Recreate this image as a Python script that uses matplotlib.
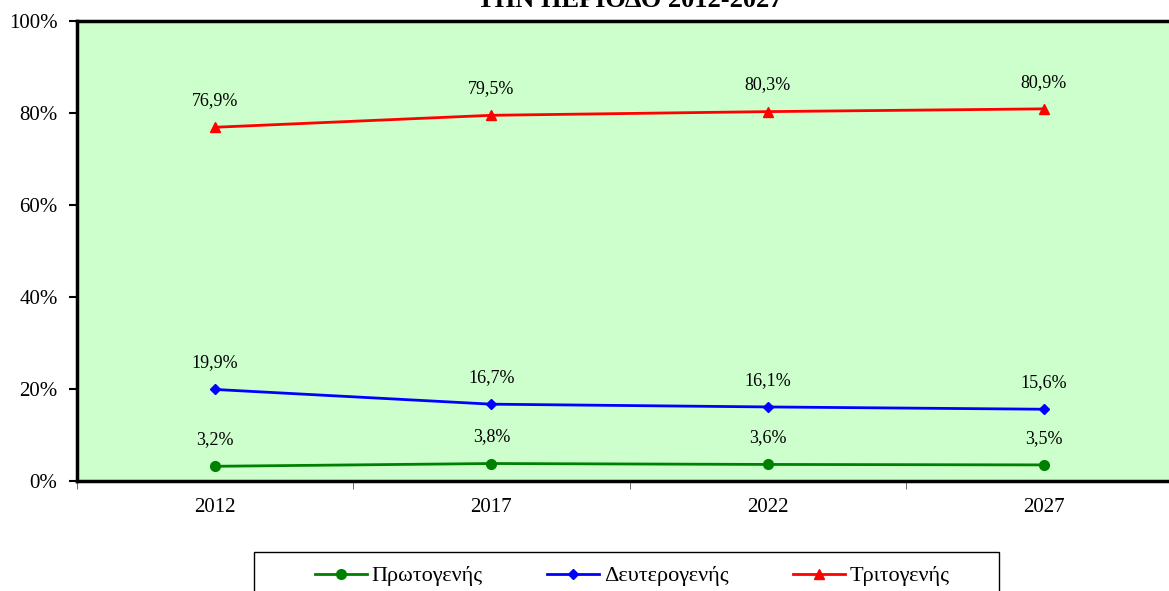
import matplotlib as mpl
import matplotlib.pyplot as plt
from matplotlib.patches import Rectangle
import numpy as np

years = ['2012', '2017', '2022', '2027']
primary = [3.2, 3.8, 3.6, 3.5]
secondary = [19.9, 16.7, 16.1, 15.6]
tertiary = [76.9, 79.5, 80.3, 80.9]
labels = ['Πρωτογενής', 'Δευτερογενής', 'Τριτογενής']

mpl.rcParams['font.family'] = ['Liberation Serif', 'DejaVu Serif']

fig = plt.figure(figsize=(11.69, 5.91), dpi=100)
ax = fig.add_axes([77 / 1169, 1 - 481 / 591, (1182 - 77) / 1169, 460 / 591])
ax.set_facecolor('#CCFFCC')

x = np.arange(len(years))
series = [
    (primary, '#008000', 'o', 7),
    (secondary, '#0000FF', 'D', 5),
    (tertiary, '#FF0000', '^', 7),
]
handles = []
for (vals, col, mk, ms), lab in zip(series, labels):
    h, = ax.plot(x, vals, color=col, marker=mk, markersize=ms, lw=2, label=lab, clip_on=False)
    handles.append(h)
    for xi, v in zip(x, vals):
        ax.annotate(f'{v:.1f}%'.replace('.', ','), (xi, v), xytext=(0, 13),
                    textcoords='offset points', ha='center', va='bottom', fontsize=13)

ax.set_xlim(-0.5, 3.5)
ax.set_ylim(0, 100)
ax.set_yticks(np.arange(0, 101, 20))
ax.set_yticklabels([f'{v}%' for v in range(0, 101, 20)], fontsize=15)
ax.set_xticks(x)
ax.set_xticklabels(years, fontsize=15)
ax.tick_params(axis='x', length=0, pad=12)
ax.set_xticks(np.arange(-0.5, 3.6, 1), minor=True)
ax.tick_params(axis='x', which='minor', length=6, color='#555555')
ax.tick_params(axis='y', length=6, width=1.5, pad=8)

for s in ['left', 'top', 'bottom']:
    ax.spines[s].set_linewidth(2.5)
ax.spines['right'].set_visible(False)

fig.text(630 / 1169, 1 - 7 / 591, 'ΤΗΝ ΠΕΡΙΟΔΟ 2012-2027', ha='center', va='baseline',
         fontsize=19, fontweight='bold')

# legend box drawn separately, wider than its content
fig.patches.append(Rectangle((254 / 1169, -0.05), (999 - 254) / 1169, 0.05 + 39 / 591,
                             transform=fig.transFigure, fill=False, edgecolor='black', lw=1))
leg = fig.legend(handles=handles, loc='center left', bbox_to_anchor=(315 / 1169, 1 - 576 / 591),
                 ncol=3, fontsize=16, frameon=False, handlelength=2.35, handletextpad=0.2,
                 columnspacing=2.9, borderpad=0, borderaxespad=0)

fig.savefig('out.png', dpi=100)
